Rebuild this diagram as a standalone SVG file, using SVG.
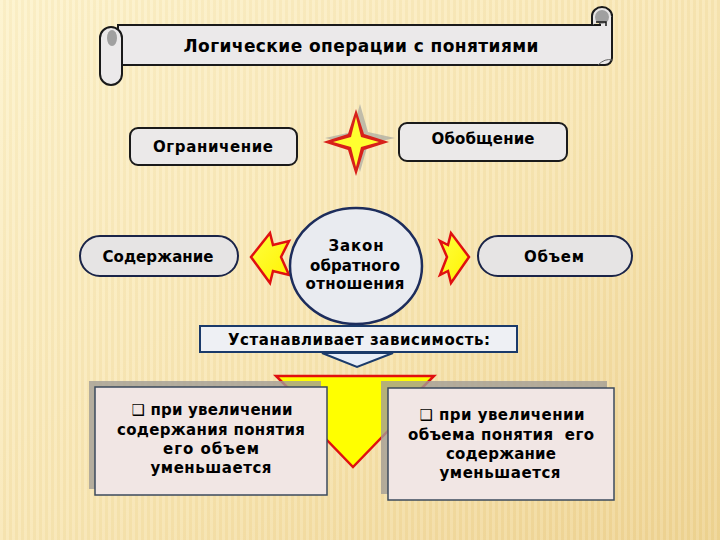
<svg xmlns="http://www.w3.org/2000/svg" width="720" height="540" viewBox="0 0 720 540">
<defs>
<linearGradient id="bg" x1="0" y1="0" x2="1" y2="1">
<stop offset="0" stop-color="#fdf2cb"/>
<stop offset="0.5" stop-color="#f8e6b3"/>
<stop offset="1" stop-color="#eed391"/>
</linearGradient>
<pattern id="stripes" width="6" height="10" patternUnits="userSpaceOnUse">
<rect x="0" y="0" width="3" height="10" fill="#ffffff" opacity="0.12"/>
<rect x="3" y="0" width="3" height="10" fill="#c8a860" opacity="0.06"/>
</pattern>
<linearGradient id="yel" x1="0" y1="0" x2="1" y2="1">
<stop offset="0" stop-color="#ffff40"/>
<stop offset="1" stop-color="#fff200"/>
</linearGradient>
<style>
text{font-family:"DejaVu Sans","Liberation Sans",sans-serif;font-weight:bold;fill:#000;text-anchor:middle}
.t14{font-size:15px}
.box{fill:#ebe9e9;stroke:#1a1a1a;stroke-width:2}
.pill{fill:#e6e4e4;stroke:#1a2448;stroke-width:2}
.note{fill:#f1e6e4;stroke:#3b4a5c;stroke-width:1.5}
.shadow{fill:#a29e96;opacity:0.8}
.arr{fill:url(#yel);stroke:#e01010;stroke-width:2.5;stroke-linejoin:miter}
</style>
</defs>
<rect width="720" height="540" fill="url(#bg)"/>
<rect width="720" height="540" fill="url(#stripes)"/>

<g id="title">
<path d="M118,25 H600 V15 A10,10 0 0 1 612,15 V58 A7,7 0 0 1 605,65 H118 Z" fill="#ebe9ea" stroke="#1a1a1a" stroke-width="2"/>
<path d="M592,25 V16 A10,9 0 0 1 612,16" fill="#e6e4e4" stroke="#1a1a1a" stroke-width="2"/>
<circle cx="602" cy="17" r="7" fill="#a0a0a0"/>
<path d="M596,22 H606 V26" fill="none" stroke="#1a1a1a" stroke-width="1.5"/>
<path d="M598,65 Q605,58 612,60" fill="none" stroke="#666" stroke-width="1"/>
<rect x="100" y="27" width="22" height="58" rx="11" ry="11" fill="#ebe9ea" stroke="#1a1a1a" stroke-width="2"/>
<ellipse cx="112" cy="38" rx="5" ry="8" fill="#a0a0a0"/>
<text x="361" y="52" font-size="17" textLength="355" lengthAdjust="spacing">Логические операции с понятиями</text>
</g>

<g id="ogranichenie">
<rect x="130" y="128" width="167" height="37" rx="8" class="box"/>
<text x="213" y="152" class="t14" textLength="120" lengthAdjust="spacing">Ограничение</text>
</g>

<g id="star">
<polygon points="360,104 368,132 395,138 368,144 360,172 352,144 325,138 352,132" fill="#a8a8a0" opacity="0.7"/>
<polygon points="356,109 364,134 389,142 364,150 356,176 348,150 323,142 348,134" fill="#d8201a"/>
<polygon points="356,117 361,137 379,142 361,147 356,167 351,147 333,142 351,137" fill="#ffff30"/>
</g>

<g id="obobshchenie">
<rect x="399" y="123" width="168" height="38" rx="8" class="box"/>
<text x="483" y="144" class="t14" textLength="103" lengthAdjust="spacing">Обобщение</text>
</g>

<g id="soderzhanie">
<rect x="80" y="236" width="158" height="40" rx="20" class="pill"/>
<text x="158" y="262" class="t14" textLength="111" lengthAdjust="spacing">Содержание</text>
</g>

<g id="obem">
<rect x="478" y="236" width="154" height="40" rx="20" class="pill"/>
<text x="554" y="262" class="t14" textLength="60" lengthAdjust="spacing">Объем</text>
</g>

<g id="connectors">
<polygon class="arr" points="251,257 270,233 273,245 289,241 281,257 289,275 273,271 270,283"/>
<polygon class="arr" points="469,257 451,233 448,245 440,241 447,257 440,275 448,271 451,283"/>
<polygon points="322,353 393,353 357,367" fill="#e8eef8" stroke="#1a3a6a" stroke-width="2"/>
<polygon points="276,376 434,376 420,390 402,390 402,408 410,408 353,467 296,408 304,408 304,390 290,390" fill="#ffff00" stroke="#e01010" stroke-width="2.5"/>
</g>

<g id="zakon">
<ellipse cx="356" cy="266" rx="66" ry="58" fill="#e9ebf0" stroke="#1d2d5c" stroke-width="2.5"/>
<text x="356" y="251" class="t14" textLength="55" lengthAdjust="spacing">Закон</text>
<text x="355" y="271" class="t14" textLength="90" lengthAdjust="spacing">обратного</text>
<text x="355" y="289" class="t14" textLength="99" lengthAdjust="spacing">отношения</text>
</g>

<g id="ustanavlivaet">
<rect x="200" y="326" width="317" height="26" fill="#eef0f4" stroke="#1a3a6a" stroke-width="2"/>
<text x="359" y="345" class="t14" textLength="262" lengthAdjust="spacing">Устанавливает зависимость:</text>
</g>

<g id="left-note">
<rect x="89" y="381" width="232" height="108" class="shadow"/>
<rect x="95" y="387" width="232" height="108" class="note"/>
<text x="212" y="415" class="t14" textLength="161" lengthAdjust="spacing">❑ при увеличении</text>
<text x="211" y="435" class="t14" textLength="188" lengthAdjust="spacing">содержания понятия</text>
<text x="211" y="454" class="t14" textLength="96" lengthAdjust="spacing">его объем</text>
<text x="211" y="473" class="t14" textLength="121" lengthAdjust="spacing">уменьшается</text>
</g>

<g id="right-note">
<rect x="381" y="381" width="226" height="113" class="shadow"/>
<rect x="388" y="388" width="226" height="112" class="note"/>
<text x="502" y="420" class="t14" textLength="165" lengthAdjust="spacing">❑ при увеличении</text>
<text x="501" y="440" class="t14" textLength="186" lengthAdjust="spacing" xml:space="preserve">объема понятия  его</text>
<text x="501" y="459" class="t14" textLength="110" lengthAdjust="spacing">содержание</text>
<text x="500" y="478" class="t14" textLength="121" lengthAdjust="spacing">уменьшается</text>
</g>
</svg>
